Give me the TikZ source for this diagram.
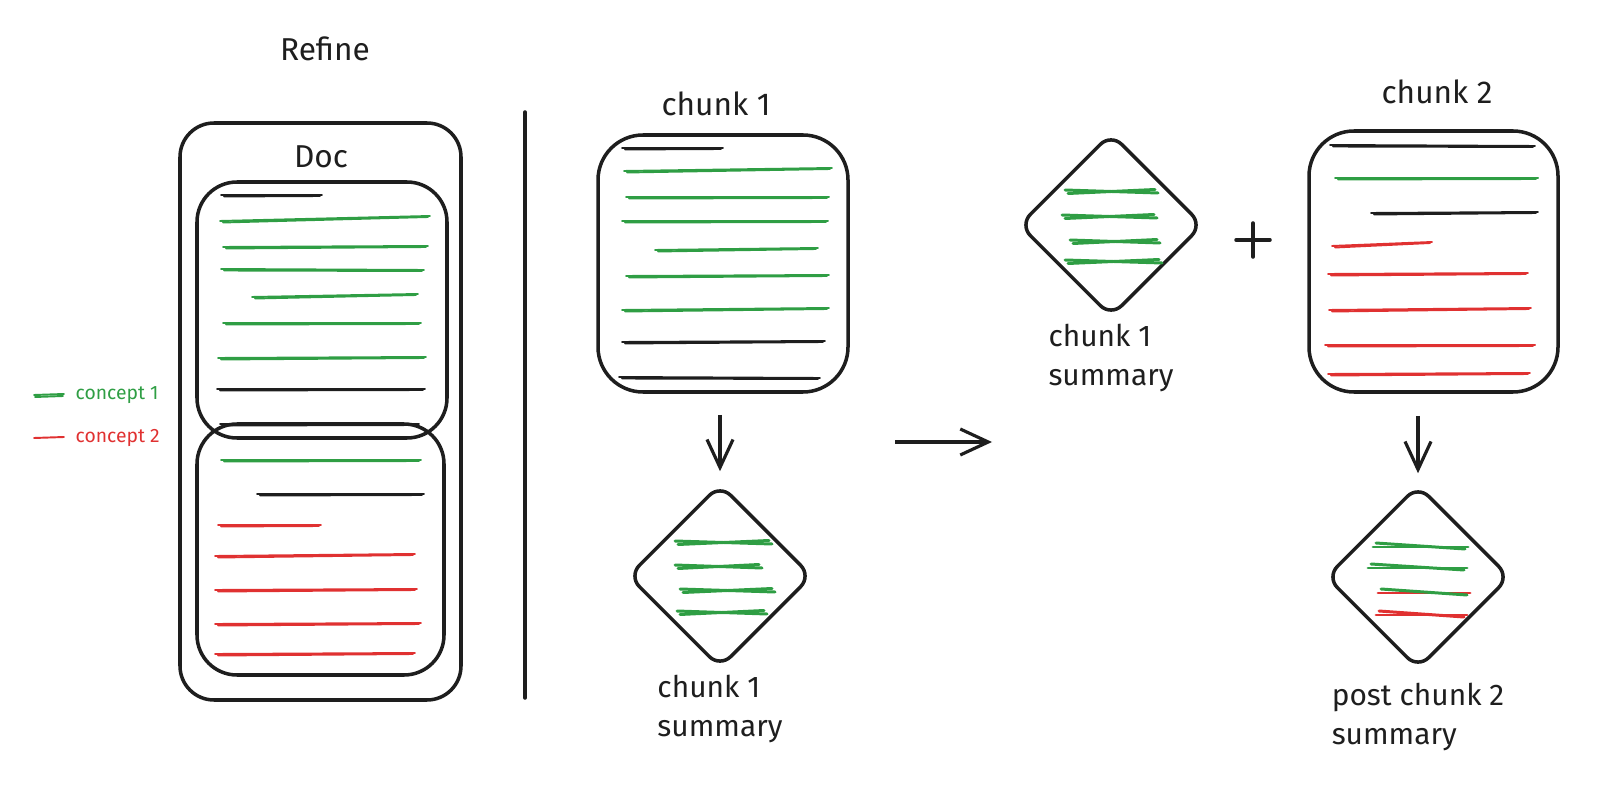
\documentclass[tikz,border=0pt]{standalone}
\usepackage{fontspec}
\setmainfont{Fira Sans}
\usetikzlibrary{arrows.meta, shapes.geometric, positioning}
\definecolor{skInk}{HTML}{1E1E1E}
\definecolor{skGreen}{HTML}{2F9E44}
\definecolor{skRed}{HTML}{E03131}
\tikzset{
  skbox/.style={draw=skInk, line width=1pt, rounded corners=4mm, inner sep=0pt},
  skdiamond/.style={draw=skInk, line width=1pt, diamond, aspect=1, minimum size=18.4mm,
    inner sep=0pt, rounded corners=1.5mm},
  txtline/.style={line width=0.55pt, line cap=round},
  scrib/.style={line width=0.85pt, line cap=round},
  title/.style={font=\fontsize{9}{11}\selectfont, text=skInk},
  caption/.style={font=\fontsize{8.5}{11}\selectfont, text=skInk, align=left},
  legend/.style={font=\fontsize{5.5}{7}\selectfont, anchor=west, inner sep=0pt},
  flow/.style={-{Straight Barb[length=2.8mm, width=2.6mm]}, line width=0.9pt, skInk},
  divider/.style={line width=1pt, skInk, line cap=round}
}
\begin{document}
\begin{tikzpicture}[x=0.1mm, y=-0.1mm]
  \useasboundingbox (0,0) rectangle (1604,808);

  % left: the whole document
  \node[title] (refine) at (325,49) {Refine};
  \node[skbox, rounded corners=3.4mm, minimum width=28.1mm, minimum height=57.7mm] (doc) at (320.5,411.5) {};
  \node[title] (doclabel) at (321,157) {Doc};
  \node[skbox, minimum width=25mm, minimum height=25.6mm] (part1) at (322,310) {};
  \node[skbox, minimum width=24.7mm, minimum height=25.1mm] (part2) at (320.5,549.5) {};
  \foreach \xa/\y/\xb/\t/\col in {
    221/195/322/0/skInk, 220/221/430/-5/skGreen, 223/247/428/-1/skGreen,
    221/269/424/1/skGreen, 252/297/418/-3/skGreen, 223/323/421/0/skGreen,
    218/358/426/-1/skGreen, 217/389/425/0/skInk, 220/424/419/0/skInk,
    221/460/421/0/skGreen, 257/494/424/0/skInk, 218/525/321/0/skRed,
    215/556/415/-2/skRed, 215/590/417/-1/skRed, 215/624/421/-1/skRed,
    215/654/415/-1/skRed}{
    \draw[txtline, \col] (\xa,\y) -- (\xb,\y+\t);
    \draw[txtline, \col] (\xa+3,\y+1.5) -- (\xb-2,\y+\t+1);
  }

  % legend
  \node[legend, text=skGreen] (leg1) at (75,395) {concept 1};
  \node[legend, text=skRed] (leg2) at (75,438) {concept 2};
  \draw[txtline, skGreen] (34,395) -- (64,394);
  \draw[txtline, skGreen] (35,397) -- (63,396);
  \draw[txtline, skRed] (34,438) -- (64,437);

  % divider
  \coordinate (divtop) at (525,112);
  \coordinate (divbot) at (525,698);
  \draw[divider] (divtop) -- (divbot);

  % chunk 1
  \node[title] (c1label) at (716,104) {chunk 1};
  \node[skbox, rounded corners=4.5mm, minimum width=25mm, minimum height=25.7mm] (c1) at (723,263.5) {};
  \foreach \xa/\y/\xb/\t/\col in {
    622/148/723/0/skInk, 624/171/832/-3/skGreen, 626/197/829/0/skGreen,
    622/221/828/0/skGreen, 655/250/818/-2/skGreen, 626/276/829/-1/skGreen,
    622/310/829/-2/skGreen, 622/342/825/-1/skInk, 619/377/820/1/skInk}{
    \draw[txtline, \col] (\xa,\y) -- (\xb,\y+\t);
    \draw[txtline, \col] (\xa+3,\y+1.5) -- (\xb-2,\y+\t+1);
  }
  \node[skdiamond] (d1) at (720,576) {};
  \begin{scope}[shift={(d1.center)}]
    \foreach \dy/\l/\r in {-34/-45/52, -10/-45/42, 14/-40/55, 36/-43/47}{
      \draw[scrib, skGreen] (\l,\dy-1) -- (\r,\dy+2);
      \draw[scrib, skGreen] (\l+3,\dy+2.5) -- (\r-3,\dy-1.5);
    }
  \end{scope}
  \node[caption, below=-0.7mm of d1] (d1label) {chunk 1\\summary};
  \draw[flow, shorten <=2.1mm, shorten >=1.1mm] (c1.south -| d1.north) -- (d1.north);

  % step over to the next chunk
  \coordinate (stepa) at (895,442);
  \coordinate (stepb) at (992,442);
  \draw[flow] (stepa) -- (stepb);

  % chunk 1 summary + chunk 2
  \node[skdiamond] (d2) at (1111,225) {};
  \begin{scope}[shift={(d2.center)}]
    \foreach \dy/\l/\r in {-34/-46/47, -9/-49/46, 16/-41/49, 36/-46/51}{
      \draw[scrib, skGreen] (\l,\dy-1) -- (\r,\dy+2);
      \draw[scrib, skGreen] (\l+3,\dy+2.5) -- (\r-3,\dy-1.5);
    }
  \end{scope}
  \node[caption, below=-0.7mm of d2] (d2label) {chunk 1\\summary};

  \coordinate (plus) at (1253,240);
  \draw[divider] ([xshift=-1.7mm]plus) -- ([xshift=1.7mm]plus);
  \draw[divider] ([yshift=-1.7mm]plus) -- ([yshift=1.7mm]plus);

  \node[title] (c2label) at (1437,92) {chunk 2};
  \node[skbox, rounded corners=4.5mm, minimum width=24.9mm, minimum height=26.1mm] (c2) at (1433.5,261.5) {};
  \foreach \xa/\y/\xb/\t/\col in {
    1330/145/1535/1/skInk, 1335/178/1538/0/skGreen, 1371/213/1538/-1/skInk,
    1332/246/1432/-4/skRed, 1328/274/1528/-1/skRed, 1329/310/1531/-2/skRed,
    1325/345/1535/0/skRed, 1328/374/1530/-1/skRed}{
    \draw[txtline, \col] (\xa,\y) -- (\xb,\y+\t);
    \draw[txtline, \col] (\xa+3,\y+1.5) -- (\xb-2,\y+\t+1);
  }
  \node[skdiamond] (d3) at (1418,577) {};
  \begin{scope}[shift={(d3.center)}]
    \foreach \dy/\l/\r/\ca/\cb in {-31/-45/50/skGreen/skGreen, -10/-50/49/skGreen/skGreen,
      15/-40/52/skRed/skGreen, 37/-42/49/skRed/skRed}{
      \draw[scrib, \ca] (\l,\dy+1) -- (\r,\dy+1);
      \draw[scrib, \cb] (\l+3,\dy-3) -- (\r-3,\dy+3);
    }
  \end{scope}
  \node[caption, below=0mm of d3] (d3label) {post chunk 2\\summary};
  \draw[flow, shorten <=2.2mm, shorten >=1mm] (c2.south -| d3.north) -- (d3.north);
\end{tikzpicture}
\end{document}
